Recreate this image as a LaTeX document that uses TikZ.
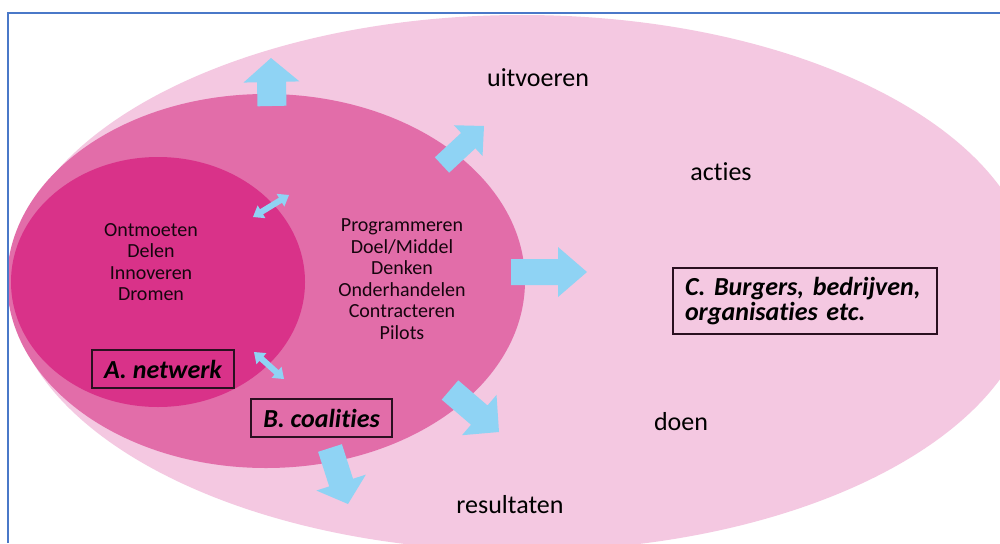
\documentclass[tikz,border=0pt]{standalone}
\usepackage{fontspec}
\setmainfont{Carlito}[Ligatures=NoCommon]
\usetikzlibrary{calc}
\definecolor{pinkA}{HTML}{F4C8E1}
\definecolor{pinkB}{HTML}{E26DA9}
\definecolor{pinkC}{HTML}{D93289}
\definecolor{arrowblue}{HTML}{8FD3F4}
\definecolor{frameblue}{HTML}{4A78C8}
\definecolor{boxline}{HTML}{2A1020}
\newcommand\bluearrow[5]{%
  \coordinate (#1-#2-h) at ($(#2)!#5!(#1)$);
  \fill[arrowblue] ($(#1)!#3!90:(#2)$) -- ($(#1-#2-h)!#3!90:(#2)$) -- ($(#1-#2-h)!#4!90:(#2)$) -- (#2)
    -- ($(#1-#2-h)!#4!-90:(#2)$) -- ($(#1-#2-h)!#3!-90:(#2)$) -- ($(#1)!#3!-90:(#2)$) -- cycle;
}
\newcommand\bluedarrow[5]{%
  \coordinate (#1-#2-h) at ($(#2)!#5!(#1)$);
  \coordinate (#1-#2-g) at ($(#1)!#5!(#2)$);
  \fill[arrowblue] (#1) -- ($(#1-#2-g)!#4!90:(#2)$) -- ($(#1-#2-g)!#3!90:(#2)$) -- ($(#1-#2-h)!#3!90:(#2)$)
    -- ($(#1-#2-h)!#4!90:(#2)$) -- (#2) -- ($(#1-#2-h)!#4!-90:(#2)$) -- ($(#1-#2-h)!#3!-90:(#2)$)
    -- ($(#1-#2-g)!#3!-90:(#2)$) -- ($(#1-#2-g)!#4!-90:(#2)$) -- cycle;
}
\tikzset{
  lbl/.style={font=\fontsize{26}{30}\selectfont, text=black, inner sep=0pt},
  inner/.style={font=\fontsize{20}{21.5}\selectfont, text=black!90!pinkC, align=center, inner sep=0pt},
  tagbox/.style={draw=boxline, line width=1.5pt, font=\fontsize{26}{25}\bfseries\itshape, text=black, inner sep=0pt},
}
\begin{document}
\begin{tikzpicture}[x=1pt,y=-1pt]
\useasboundingbox (0,0) rectangle (1000,543);
\clip (0,0) rectangle (1000,543);
\fill[white] (0,0) rectangle (1000,543);
% ellipses
\fill[pinkA] (522,283) ellipse [x radius=512pt, y radius=268pt];
\fill[pinkB] (266,281) ellipse [x radius=259pt, y radius=187pt];
\fill[pinkC] (158,282) ellipse [x radius=147pt, y radius=125pt];
% arrow end points
\coordinate (upT) at (272,106);  \coordinate (upP) at (271,58);
\coordinate (urT) at (442,165);  \coordinate (urP) at (484,126);
\coordinate (rT) at (511,272);   \coordinate (rP) at (587,272);
\coordinate (drT) at (450,390);  \coordinate (drP) at (499,432);
\coordinate (dT) at (330,448);   \coordinate (dP) at (348,504);
\coordinate (d1a) at (253,217);  \coordinate (d1b) at (289,195);
\coordinate (d2a) at (254,352);  \coordinate (d2b) at (284,379);
\bluearrow{upT}{upP}{14.5pt}{28pt}{24pt}
\bluearrow{urT}{urP}{10.5pt}{21pt}{21.5pt}
\bluearrow{rT}{rP}{13pt}{25pt}{29pt}
\bluearrow{drT}{drP}{12.7pt}{26.5pt}{26pt}
\bluearrow{dT}{dP}{12.5pt}{26pt}{22.5pt}
\bluedarrow{d1a}{d1b}{3pt}{7.5pt}{10pt}
\bluedarrow{d2a}{d2b}{3pt}{7.5pt}{10pt}
% texts
\node[lbl] (uit) at (538,78) {uitvoeren};
\node[lbl] (act) at (721,172) {acties};
\node[lbl] (doen) at (681,422) {doen};
\node[lbl] (res) at (510,505) {resultaten};
\node[inner] (netw) at (151,262) {Ontmoeten\\Delen\\Innoveren\\Dromen};
\node[inner] (coal) at (402,279) {Programmeren\\Doel/Middel\\Denken\\Onderhandelen\\Contracteren\\Pilots};
\node[tagbox, minimum width=142pt, minimum height=38pt] (boxA) at (163,369) {A. netwerk};
\node[tagbox, minimum width=141pt, minimum height=38pt] (boxB) at (321.5,418) {B. coalities};
\node[tagbox, minimum width=264pt, minimum height=66pt, align=left, text width=240pt] (boxC) at (805,301) {C. Burgers, bedrijven,\\organisaties etc.};
% frame
\draw[frameblue, line width=2pt] (8,543) -- (8,13) -- (1000,13);
\end{tikzpicture}
\end{document}
